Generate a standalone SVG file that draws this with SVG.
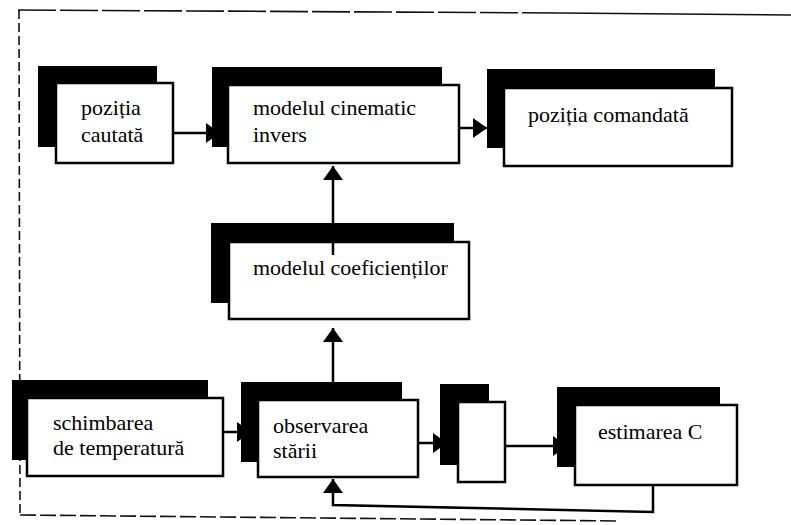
<svg xmlns="http://www.w3.org/2000/svg" width="791" height="525" viewBox="0 0 791 525">
  <style>
    .shadow { fill: #000; }
    .box { fill: #fff; stroke: #000; stroke-width: 2.5; }
    .label { font-family: "Liberation Serif", "Times New Roman", serif; font-size: 22px; fill: #000; }
    .wire { fill: none; stroke: #000; stroke-width: 2.5; }
    .frame { fill: none; stroke: #111; stroke-width: 1.6; }
  </style>
  <defs>
    <marker id="arrow" markerUnits="userSpaceOnUse" markerWidth="15" markerHeight="20" refX="14" refY="10" orient="auto">
      <path d="M0,0 L14,10 L0,20 Z" fill="#000"/>
    </marker>
  </defs>
  <rect width="791" height="525" fill="#fff"/>

  <!-- dashed enclosing frame -->
  <g id="frame">
    <path class="frame" d="M18,10 L560,13" stroke-dasharray="38 4"/>
    <path class="frame" d="M560,13 L791,15" stroke-width="2"/>
    <path class="frame" d="M19,10 L20,515" stroke-dasharray="9 4"/>
    <path class="frame" d="M20,515 L620,521" stroke-dasharray="16 4" stroke="#333"/>
  </g>

  <!-- connectors -->
  <g id="connectors">
    <path class="wire" d="M173,133 L220,133" marker-end="url(#arrow)"/>
    <path class="wire" d="M459,128 L487,128" marker-end="url(#arrow)"/>
    <path class="wire" d="M333,255 L333,166" marker-end="url(#arrow)"/>
    <path class="wire" d="M333,382 L333,328" marker-end="url(#arrow)"/>
    <path class="wire" d="M223,432 L251,432" marker-end="url(#arrow)"/>
    <path class="wire" d="M418,443 L447,443" marker-end="url(#arrow)"/>
    <path class="wire" d="M505,446 L567,446" marker-end="url(#arrow)"/>
    <path class="wire" d="M653,485 L653,512 L333,505 L333,479" marker-end="url(#arrow)"/>
  </g>

  <g id="pozitia-cautata">
    <rect class="shadow" x="38" y="66" width="119" height="81"/>
    <rect class="box" x="56" y="83" width="117" height="80"/>
    <text class="label" x="81" y="115">poziția</text>
    <text class="label" x="81" y="142">cautată</text>
  </g>

  <g id="modelul-cinematic-invers">
    <rect class="shadow" x="212" y="67" width="230" height="80"/>
    <rect class="box" x="228" y="85" width="231" height="78"/>
    <text class="label" x="253" y="115">modelul cinematic</text>
    <text class="label" x="253" y="142">invers</text>
  </g>

  <g id="pozitia-comandata">
    <rect class="shadow" x="487" y="69" width="228" height="79"/>
    <rect class="box" x="504" y="88" width="228" height="78"/>
    <text class="label" x="528" y="122">poziția comandată</text>
  </g>

  <g id="modelul-coeficientilor">
    <rect class="shadow" x="211" y="223" width="243" height="80"/>
    <rect class="box" x="229" y="242" width="240" height="77"/>
    <line class="wire" x1="333" y1="242" x2="333" y2="255"/>
    <text class="label" x="253" y="275">modelul coeficienților</text>
  </g>

  <g id="schimbarea-de-temperatura">
    <rect class="shadow" x="12" y="380" width="196" height="80"/>
    <rect class="box" x="27" y="398" width="196" height="78"/>
    <text class="label" x="53" y="430">schimbarea</text>
    <text class="label" x="53" y="455">de temperatură</text>
  </g>

  <g id="observarea-starii">
    <rect class="shadow" x="241" y="382" width="161" height="80"/>
    <rect class="box" x="258" y="400" width="160" height="77"/>
    <text class="label" x="273" y="433">observarea</text>
    <text class="label" x="273" y="458">stării</text>
  </g>

  <g id="bloc-intermediar">
    <rect class="shadow" x="440" y="384" width="49" height="81"/>
    <rect class="box" x="458" y="402" width="47" height="80"/>
  </g>

  <g id="estimarea-c">
    <rect class="shadow" x="557" y="387" width="163" height="80"/>
    <rect class="box" x="575" y="405" width="162" height="80"/>
    <text class="label" x="598" y="439">estimarea C</text>
  </g>
</svg>
